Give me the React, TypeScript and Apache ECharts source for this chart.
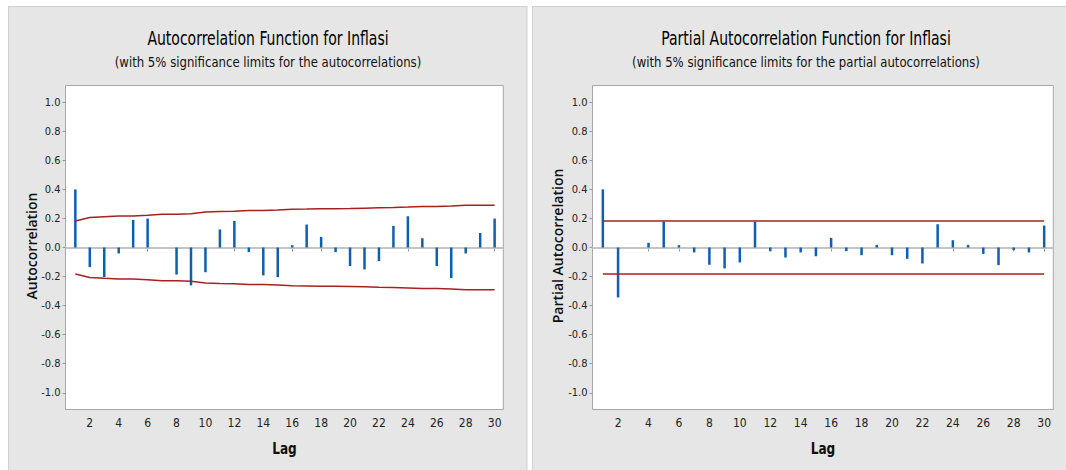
import React, { useEffect, useRef } from "react";
import * as echarts from "echarts";

const lags = [1, 2, 3, 4, 5, 6, 7, 8, 9, 10, 11, 12, 13, 14, 15, 16, 17, 18, 19, 20, 21, 22, 23, 24, 25, 26, 27, 28, 29, 30];
const acfValues = [0.40, -0.135, -0.204, -0.041, 0.19, 0.199, 0.0, -0.186, -0.261, -0.17, 0.124, 0.183, -0.032, -0.192, -0.204, 0.016, 0.158, 0.073, -0.032, -0.128, -0.151, -0.094, 0.149, 0.215, 0.064, -0.128, -0.211, -0.041, 0.10, 0.199];
const acfUpper = [0.182, 0.206, 0.212, 0.216, 0.217, 0.222, 0.228, 0.229, 0.233, 0.244, 0.247, 0.249, 0.254, 0.254, 0.258, 0.264, 0.265, 0.267, 0.267, 0.268, 0.271, 0.274, 0.275, 0.278, 0.283, 0.283, 0.286, 0.29, 0.29, 0.291];
const acfLower = [-0.182, -0.206, -0.212, -0.216, -0.217, -0.222, -0.228, -0.229, -0.233, -0.244, -0.247, -0.249, -0.254, -0.254, -0.258, -0.264, -0.265, -0.267, -0.267, -0.268, -0.271, -0.274, -0.275, -0.278, -0.283, -0.283, -0.286, -0.29, -0.29, -0.291];
const pacfValues = [0.40, -0.344, 0.0, 0.032, 0.179, 0.016, -0.034, -0.119, -0.144, -0.103, 0.176, -0.025, -0.069, -0.034, -0.06, 0.066, -0.025, -0.053, 0.018, -0.053, -0.078, -0.11, 0.16, 0.05, 0.018, -0.044, -0.121, -0.018, -0.034, 0.151];
const pacfUpper = 0.182;
const pacfLower = -0.182;
const yTicks = [-1.0, -0.8, -0.6, -0.4, -0.2, 0.0, 0.2, 0.4, 0.6, 0.8, 1.0];
const xTicks = [2, 4, 6, 8, 10, 12, 14, 16, 18, 20, 22, 24, 26, 28, 30];

const titles = ["Autocorrelation Function for Inflasi", "Partial Autocorrelation Function for Inflasi"];
const subtitles = ["(with 5% significance limits for the autocorrelations)", "(with 5% significance limits for the partial autocorrelations)"];
const yNames = ["Autocorrelation", "Partial Autocorrelation"];

const NARROW = "'Liberation Sans Narrow', 'DejaVu Sans Condensed', 'Open Sans', sans-serif";
const SANS = "'Open Sans', 'Noto Sans', sans-serif";
const BLUE = "#0d5fb0";
const RED = "#a82020";

export default function App() {
  const ref = useRef<HTMLDivElement>(null);
  useEffect(() => {
    if (!ref.current) return;
    const chart = echarts.init(ref.current, null, { renderer: "svg" });
    const grids = [
      { left: 65.5, top: 85.5, width: 437.8, height: 324 },
      { left: 592.5, top: 85.5, width: 460.8, height: 324 },
    ];
    const xAxisBase = (i: number) => ({
      type: "value",
      gridIndex: i,
      min: 0.32,
      max: 30.6,
      axisLine: { show: false },
      splitLine: { show: false },
      axisTick: { show: true, length: 4, lineStyle: { color: "#999" }, customValues: xTicks },
      axisLabel: { show: true, customValues: xTicks, fontFamily: NARROW, fontSize: 12, color: "#222", margin: 7 },
    });
    const yAxisBase = (i: number) => ({
      type: "value",
      gridIndex: i,
      min: -1.115,
      max: 1.115,
      axisLine: { show: false },
      splitLine: { show: false },
      axisTick: { show: true, length: 3, lineStyle: { color: "#999" }, customValues: yTicks },
      axisLabel: {
        show: true,
        customValues: yTicks,
        formatter: (v: number) => v.toFixed(1),
        fontFamily: NARROW,
        fontSize: 11,
        color: "#222",
        margin: 5,
      },
    });
    const barSeries = (i: number, vals: number[]) => ({
      type: "bar",
      xAxisIndex: i,
      yAxisIndex: i,
      barWidth: 2.5,
      itemStyle: { color: BLUE },
      data: lags.map((l, k) => [l, vals[k]]),
      z: 3,
      markLine: {
        silent: true,
        symbol: "none",
        label: { show: false },
        lineStyle: { color: "#c4c4c4", width: 2, type: "solid" },
        data: [{ yAxis: 0 }],
        z: 1,
      },
    });
    const lineSeries = (i: number, pts: number[][]) => ({
      type: "line",
      xAxisIndex: i,
      yAxisIndex: i,
      showSymbol: false,
      symbol: "none",
      lineStyle: { color: RED, width: 1.5 },
      data: pts,
      z: 4,
    });
    const graphicTexts: any[] = [];
    const panelCenters = [268, 806];
    const plotCenters = [284.5, 823];
    const yNameX = [31, 557];
    for (let i = 0; i < 2; i++) {
      graphicTexts.push({
        type: "text",
        x: panelCenters[i],
        y: 38,
        scaleX: 0.82,
        style: { text: titles[i], font: `19px ${NARROW}`, fill: "#000", align: "center", verticalAlign: "middle" },
      });
      graphicTexts.push({
        type: "text",
        x: panelCenters[i],
        y: 61.5,
        scaleX: 0.93,
        style: { text: subtitles[i], font: `14px ${NARROW}`, fill: "#111", align: "center", verticalAlign: "middle" },
      });
      graphicTexts.push({
        type: "text",
        x: plotCenters[i],
        y: 449,
        scaleX: 0.9,
        style: { text: "Lag", font: `600 15px ${NARROW}`, fill: "#111", align: "center", verticalAlign: "middle" },
      });
      graphicTexts.push({
        type: "text",
        x: yNameX[i],
        y: 246,
        rotation: Math.PI / 2,
        style: { text: yNames[i], font: `600 14px ${SANS}`, fill: "#111", align: "center", verticalAlign: "middle" },
      });
    }
    chart.setOption({
      animation: false,
      backgroundColor: "#ffffff",
      graphic: {
        elements: [
          { type: "rect", z: -100, shape: { x: 8.5, y: 6.5, width: 518.5, height: 470 }, style: { fill: "#e6e6e6", stroke: "#cfcfcf", lineWidth: 1 } },
          { type: "rect", z: -100, shape: { x: 532.5, y: 6.5, width: 545, height: 470 }, style: { fill: "#e6e6e6", stroke: "#cfcfcf", lineWidth: 1 } },
          ...graphicTexts,
        ],
      },
      grid: grids.map((g) => ({ ...g, show: true, backgroundColor: "#ffffff", borderColor: "#a8a8a8", borderWidth: 1, containLabel: false })),
      xAxis: [xAxisBase(0), xAxisBase(1)],
      yAxis: [yAxisBase(0), yAxisBase(1)],
      series: [
        barSeries(0, acfValues),
        lineSeries(0, lags.map((l, k) => [l, acfUpper[k]])),
        lineSeries(0, lags.map((l, k) => [l, acfLower[k]])),
        barSeries(1, pacfValues),
        lineSeries(1, [[lags[0], pacfUpper], [lags[lags.length - 1], pacfUpper]]),
        lineSeries(1, [[lags[0], pacfLower], [lags[lags.length - 1], pacfLower]]),
      ],
    });
    return () => chart.dispose();
  }, []);
  return <div ref={ref} style={{ position: "fixed", left: 0, top: 0, width: 1066, height: 470 }} />;
}
